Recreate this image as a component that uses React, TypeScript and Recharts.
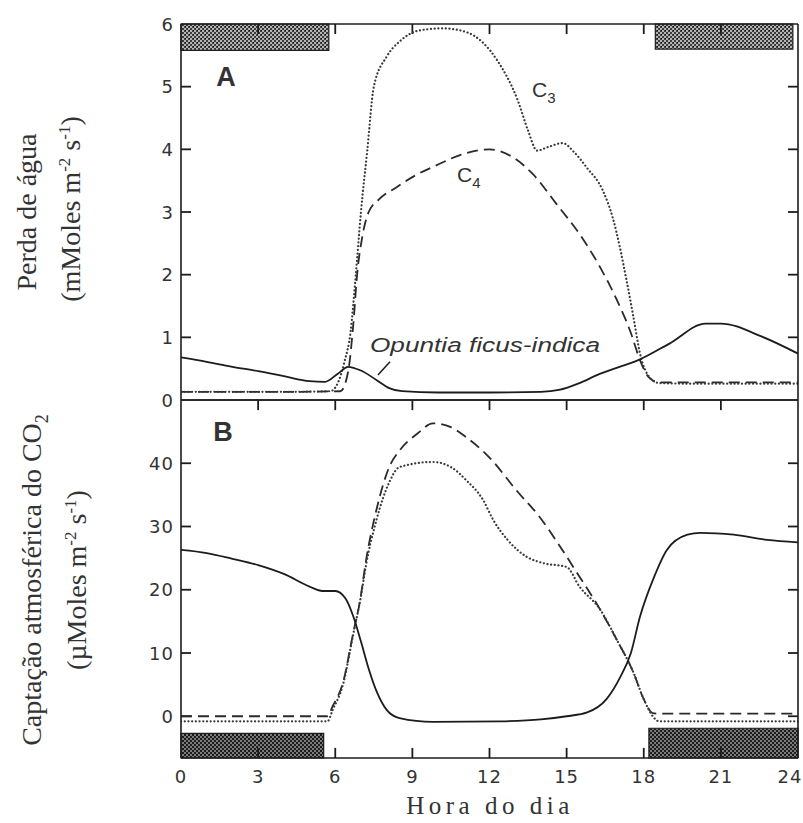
import { LineChart, Line, XAxis, YAxis, ReferenceArea } from "recharts";

// Hora do dia (0–24 h) — shared by both panels
const HOUR_TICKS = [0, 3, 6, 9, 12, 15, 18, 21, 24];
const WATER_TICKS = [0, 1, 2, 3, 4, 5, 6];
const CO2_TICKS = [0, 10, 20, 30, 40];

// A — perda de água (mMoles m-2 s-1), pairs of [hora, valor]
const A_OPUNTIA: [number, number][] = [
  [0, 0.68], [1, 0.61], [2, 0.53], [3, 0.46], [4, 0.38], [5, 0.3], [5.6, 0.29], [6.1, 0.42],
  [6.5, 0.53], [7.0, 0.47], [7.6, 0.32], [8.1, 0.19], [8.6, 0.14], [10, 0.12], [12, 0.12],
  [14, 0.13], [14.7, 0.16], [15.5, 0.27], [16.2, 0.4], [17, 0.52], [17.7, 0.62], [19, 0.9],
  [20.4, 1.22], [21, 1.22], [22.6, 1.01], [24, 0.74],
];
const A_C3: [number, number][] = [
  [0, 0.13], [2, 0.13], [4, 0.13], [5.8, 0.14], [6.1, 0.27], [6.35, 0.6], [6.6, 1.1], [6.8, 2.0],
  [7.0, 3.0], [7.25, 4.0], [7.5, 5.0], [8.0, 5.48], [8.5, 5.72], [9.3, 5.9], [10.2, 5.93],
  [11.1, 5.87], [12.3, 5.42], [13.1, 4.78], [13.5, 4.3], [13.85, 3.98], [14.3, 4.04],
  [14.85, 4.1], [15.3, 3.95], [15.8, 3.7], [16.4, 3.35], [16.8, 2.9], [17.35, 1.87],
  [17.6, 1.32], [17.85, 0.75], [18.25, 0.35], [18.6, 0.27], [20, 0.26], [22, 0.26], [24, 0.26],
];
const A_C4: [number, number][] = [
  [0, 0.13], [2, 0.13], [4, 0.13], [6.2, 0.14], [6.5, 0.45], [6.7, 1.2], [6.85, 2.0],
  [7.05, 2.6], [7.3, 3.0], [7.7, 3.2], [8.4, 3.4], [9.1, 3.58], [9.8, 3.72], [11.1, 3.94],
  [12, 4.0], [12.8, 3.9], [13.7, 3.6], [14.6, 3.13], [15.5, 2.65], [16.3, 2.12], [16.95, 1.6],
  [17.5, 1.07], [17.85, 0.64], [18.2, 0.36], [18.6, 0.28], [20, 0.28], [22, 0.28], [24, 0.28],
];

// B — captação atmosférica do CO2 (µMoles m-2 s-1)
const B_OPUNTIA: [number, number][] = [
  [0, 26.3], [1, 25.8], [2, 24.9], [3, 23.9], [4, 22.5], [5, 20.5], [5.5, 19.8], [6.0, 19.8],
  [6.4, 18.6], [6.7, 15.8], [7.0, 11.8], [7.3, 7.5], [7.6, 4.0], [8.0, 1.0], [8.5, -0.3],
  [9.8, -0.9], [12.4, -0.8], [14, -0.5], [15, 0], [15.8, 0.6], [16.55, 2.7], [17.1, 6.3],
  [17.5, 10], [17.85, 15.7], [18.4, 22], [18.9, 26.3], [19.7, 28.7], [20.2, 29], [21.5, 28.7],
  [22.8, 27.9], [24, 27.5],
];
const B_C3: [number, number][] = [
  [0, -0.8], [2, -0.8], [4, -0.8], [5.7, -0.8], [5.9, 1.0], [6.3, 5.0], [6.7, 13], [7.0, 19],
  [7.2, 24], [7.6, 31], [8.1, 37], [8.5, 39.4], [9.8, 40.2], [10.5, 39.4], [11.1, 37.3],
  [11.75, 34.2], [12.15, 31], [12.7, 27.9], [13.45, 25.2], [14.1, 24.2], [15, 23.6],
  [15.5, 20.5], [16.3, 16.9], [16.95, 12.1], [17.6, 6.9], [18.0, 2.7], [18.35, 0],
  [18.6, -0.8], [21, -0.8], [24, -0.8],
];
const B_C4: [number, number][] = [
  [0, 0], [2, 0], [4, 0], [5.7, 0], [5.9, 1.6], [6.3, 5.3], [6.7, 13.2], [6.97, 18.4],
  [7.2, 24.7], [7.6, 32.6], [8.1, 39.4], [8.5, 42], [9.2, 44.7], [9.8, 46.3], [10.5, 45.7],
  [11.1, 44.1], [12, 40.9], [13.05, 35.7], [13.95, 31.5], [14.75, 26.8], [15.4, 22.7],
  [16.3, 16.9], [16.95, 12.1], [17.6, 6.9], [18.0, 2.7], [18.35, 0.5], [18.6, 0.4],
  [21, 0.4], [24, 0.4],
];

// leader from the "Opuntia ficus-indica" label to its curve
const A_LEADER: [number, number][] = [[7.66, 0.4], [8.13, 0.61]];

// dark periods: [start hour, end hour, y bottom, y top]
const NIGHT_A: [number, number, number, number][] = [
  [0, 5.75, 5.58, 6],
  [18.45, 23.8, 5.6, 6],
];
const NIGHT_B: [number, number, number, number][] = [
  [0, 5.55, -6.6, -2.7],
  [18.2, 24, -6.6, -1.9],
];

const DOM_A: [number, number] = [0, 6];
const DOM_B: [number, number] = [-6.6, 50];

const INK = "#1c1c1c";
const SERIF = "Liberation Serif, serif";
const SANS = "DejaVu Sans, sans-serif";
// inward tick length (~10px) expressed in each scale's units
const TICK_HOURS = 0.39;
const TICK_A = 0.16;
const TICK_B = 1.6;

const pts = (arr: [number, number][]) => arr.map(([h, v]) => ({ h, v }));

const leftLabel = (p: any) => (
  <text x={p.x} y={p.y} dy={6.5} textAnchor="end" fontFamily={SANS} fontSize={18} fill="#333" letterSpacing={1}>
    {p.payload.value}
  </text>
);
const bottomLabel = (p: any) => (
  <text x={p.payload.value === 24 ? p.x - 8 : p.x} y={p.y} dy={18} textAnchor="middle" fontFamily={SANS}
    fontSize={18} fill="#333" letterSpacing={1}>
    {p.payload.value}
  </text>
);

// tick marks pointing into the frame, drawn as tiny two-point series through the chart's scales
function inwardTicks(domain: [number, number], yTicks: number[], yLen: number, bottom: boolean) {
  const segs: { key: string; data: [number, number][] }[] = [];
  for (const v of yTicks) {
    if (v <= domain[0] || v >= domain[1]) continue;
    segs.push({ key: `l${v}`, data: [[0, v], [TICK_HOURS, v]] });
    segs.push({ key: `r${v}`, data: [[24 - TICK_HOURS, v], [24, v]] });
  }
  for (const h of HOUR_TICKS) {
    if (h === 0 || h === 24) continue;
    segs.push({ key: `t${h}`, data: [[h, domain[1]], [h, domain[1] - yLen]] });
    if (bottom) segs.push({ key: `b${h}`, data: [[h, domain[0]], [h, domain[0] + yLen]] });
  }
  return segs.map((s) => (
    <Line key={s.key} xAxisId="bottom" yAxisId="left" data={pts(s.data)} dataKey="v" type="linear"
      stroke={INK} strokeWidth={1.8} dot={false} isAnimationActive={false} />
  ));
}

function NightPattern({ id, light, dark }: { id: string; light: string; dark: string }) {
  return (
    <defs>
      <pattern id={id} width={4} height={4} patternUnits="userSpaceOnUse">
        <rect width={4} height={4} fill={dark} />
        <rect x={0} y={0} width={2} height={2} fill={light} />
        <rect x={2} y={2} width={2} height={2} fill={light} />
        <rect x={1} y={2} width={1} height={1} fill="#111" />
      </pattern>
    </defs>
  );
}

const axisLine = { stroke: INK, strokeWidth: 1.6 };

export default function App() {
  return (
    <div style={{ position: "absolute", left: 0, top: 0, width: 803, height: 823, background: "#fff" }}>
      <div style={{ position: "absolute", left: 0, top: 0 }}>
        <LineChart width={803} height={420} margin={{ top: 0, right: 0, bottom: 0, left: 0 }}>
          <NightPattern id="nightA" light="#b4b4b4" dark="#3c3c3c" />
          <XAxis xAxisId="bottom" dataKey="h" type="number" domain={[0, 24]} ticks={HOUR_TICKS}
            height={20} tick={false} tickLine={false} axisLine={axisLine} allowDataOverflow />
          <XAxis xAxisId="top" orientation="top" dataKey="h" type="number" domain={[0, 24]}
            ticks={HOUR_TICKS} height={24} tick={false} tickLine={false} axisLine={axisLine} allowDataOverflow />
          <YAxis yAxisId="left" type="number" domain={DOM_A} ticks={WATER_TICKS} interval={0}
            width={181} tickSize={0} tickMargin={7} tickLine={false} tick={leftLabel}
            axisLine={axisLine} allowDataOverflow />
          <YAxis yAxisId="right" orientation="right" type="number" domain={DOM_A} ticks={WATER_TICKS}
            width={5} tick={false} tickLine={false} axisLine={axisLine} allowDataOverflow />

          {NIGHT_A.map(([x1, x2, y1, y2]) => (
            <ReferenceArea key={x1} xAxisId="bottom" yAxisId="left" x1={x1} x2={x2} y1={y1} y2={y2}
              fill="url(#nightA)" fillOpacity={1} stroke={INK} strokeWidth={1.2} />
          ))}
          {inwardTicks(DOM_A, WATER_TICKS, TICK_A, false)}

          <Line xAxisId="bottom" yAxisId="left" data={pts(A_C4)} dataKey="v" type="monotone"
            stroke="#2a2a2a" strokeWidth={1.8} strokeDasharray="11 6" dot={false} isAnimationActive={false} />
          <Line xAxisId="bottom" yAxisId="left" data={pts(A_C3)} dataKey="v" type="monotone"
            stroke="#3a3a3a" strokeWidth={2.2} strokeDasharray="0.1 3.6" strokeLinecap="round"
            dot={false} isAnimationActive={false} />
          <Line xAxisId="bottom" yAxisId="left" data={pts(A_OPUNTIA)} dataKey="v" type="monotone"
            stroke={INK} strokeWidth={1.8} dot={false} isAnimationActive={false} />
          <Line xAxisId="bottom" yAxisId="left" data={pts(A_LEADER)} dataKey="v" type="linear"
            stroke={INK} strokeWidth={1.5} dot={false} isAnimationActive={false} />

          <text x={226} y={86} textAnchor="middle" fontFamily="Liberation Sans, sans-serif"
            fontWeight="bold" fontSize={27} fill="#333">A</text>
          <text x={532} y={97} fontFamily="Liberation Sans, sans-serif" fontSize={21} fill="#333">
            C<tspan dy={6} fontSize={15}>3</tspan>
          </text>
          <text x={457} y={182} fontFamily="Liberation Sans, sans-serif" fontSize={21} fill="#333">
            C<tspan dy={6} fontSize={15}>4</tspan>
          </text>
          <text x={370} y={352} fontFamily="Liberation Sans, sans-serif" fontStyle="italic" fontSize={20}
            fill="#333" textLength={230} lengthAdjust="spacingAndGlyphs">Opuntia ficus-indica</text>

          <text transform="translate(36,212) rotate(-90)" textAnchor="middle" fontFamily={SERIF}
            fontSize={28} fill="#333">Perda de água</text>
          <text transform="translate(80,209) rotate(-90)" textAnchor="middle" fontFamily={SERIF}
            fontSize={28} fill="#333">
            (mMoles m<tspan dy={-10} fontSize={17}>-2</tspan>
            <tspan dy={10}> s</tspan>
            <tspan dy={-10} fontSize={17}>-1</tspan>
            <tspan dy={10}>)</tspan>
          </text>
        </LineChart>
      </div>

      <div style={{ position: "absolute", left: 0, top: 380 }}>
        <LineChart width={803} height={443} margin={{ top: 0, right: 0, bottom: 0, left: 0 }}>
          <NightPattern id="nightB" light="#7a7a7a" dark="#1e1e1e" />
          <XAxis xAxisId="bottom" dataKey="h" type="number" domain={[0, 24]} ticks={HOUR_TICKS}
            interval={0} height={65} tickSize={0} tickMargin={7} tickLine={false} tick={bottomLabel}
            axisLine={axisLine} allowDataOverflow />
          <XAxis xAxisId="top" orientation="top" dataKey="h" type="number" domain={[0, 24]}
            ticks={HOUR_TICKS} height={20} tick={false} tickLine={false} axisLine={axisLine} allowDataOverflow />
          <YAxis yAxisId="left" type="number" domain={DOM_B} ticks={CO2_TICKS} interval={0}
            width={181} tickSize={0} tickMargin={7} tickLine={false} tick={leftLabel}
            axisLine={axisLine} allowDataOverflow />
          <YAxis yAxisId="right" orientation="right" type="number" domain={DOM_B} ticks={CO2_TICKS}
            width={5} tick={false} tickLine={false} axisLine={axisLine} allowDataOverflow />

          {NIGHT_B.map(([x1, x2, y1, y2]) => (
            <ReferenceArea key={x1} xAxisId="bottom" yAxisId="left" x1={x1} x2={x2} y1={y1} y2={y2}
              fill="url(#nightB)" fillOpacity={1} stroke={INK} strokeWidth={1.2} />
          ))}
          {inwardTicks(DOM_B, CO2_TICKS, TICK_B, true)}

          <Line xAxisId="bottom" yAxisId="left" data={pts(B_C4)} dataKey="v" type="monotone"
            stroke="#2a2a2a" strokeWidth={1.8} strokeDasharray="11 6" dot={false} isAnimationActive={false} />
          <Line xAxisId="bottom" yAxisId="left" data={pts(B_C3)} dataKey="v" type="monotone"
            stroke="#3a3a3a" strokeWidth={2.2} strokeDasharray="0.1 3.6" strokeLinecap="round"
            dot={false} isAnimationActive={false} />
          <Line xAxisId="bottom" yAxisId="left" data={pts(B_OPUNTIA)} dataKey="v" type="monotone"
            stroke={INK} strokeWidth={1.8} dot={false} isAnimationActive={false} />

          <text x={223} y={61} textAnchor="middle" fontFamily="Liberation Sans, sans-serif"
            fontWeight="bold" fontSize={27} fill="#333">B</text>

          <text transform="translate(41,200) rotate(-90)" textAnchor="middle" fontFamily={SERIF}
            fontSize={28} fill="#333">
            Captação atmosférica do CO<tspan dy={7} fontSize={18}>2</tspan>
          </text>
          <text transform="translate(86,200) rotate(-90)" textAnchor="middle" fontFamily={SERIF}
            fontSize={28} fill="#333">
            (µMoles m<tspan dy={-10} fontSize={17}>-2</tspan>
            <tspan dy={10}> s</tspan>
            <tspan dy={-10} fontSize={17}>-1</tspan>
            <tspan dy={10}>)</tspan>
          </text>
          <text x={490} y={434} textAnchor="middle" fontFamily={SERIF} fontSize={25} fill="#333"
            letterSpacing={4.5}>Hora do dia</text>
        </LineChart>
      </div>
    </div>
  );
}
